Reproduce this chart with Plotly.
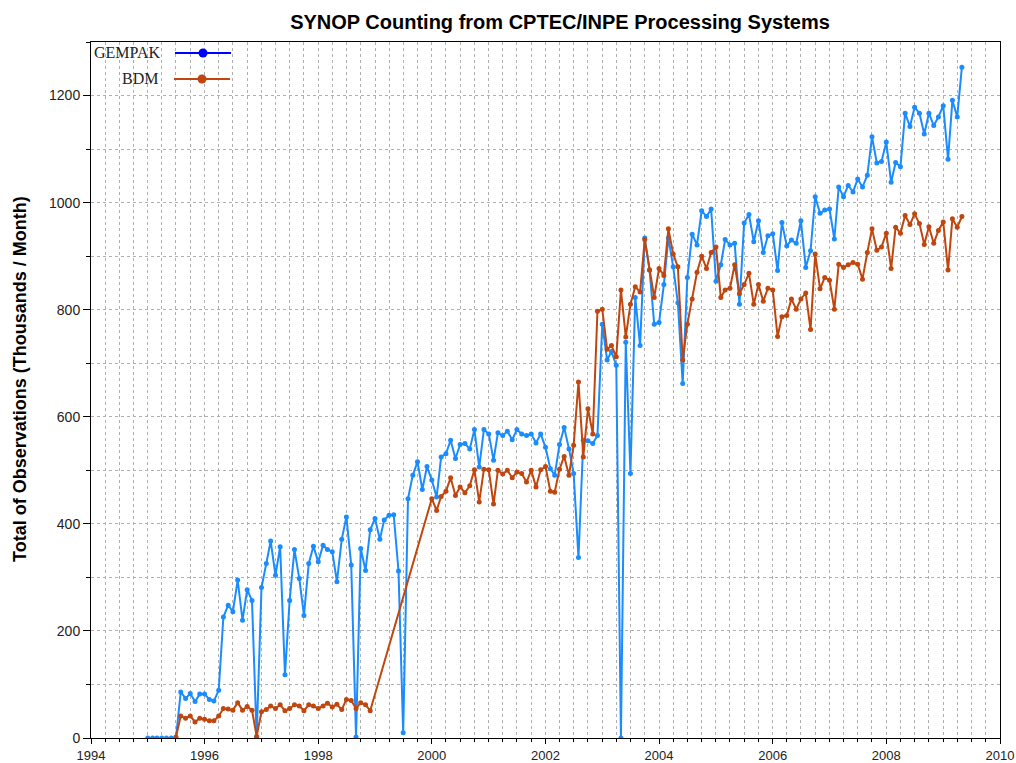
import plotly.graph_objects as go
import pandas as pd

# ---------------- data (thousands of observations per month) ----------------
start_month = "1995-01-01"

gempak = [
    0, 0, 0, 0, 0, 0, 0, 86, 74, 83, 68, 82,            # 1995
    82, 72, 69, 89, 226, 248, 236, 295, 220, 277, 257, 2,  # 1996
    281, 326, 368, 304, 357, 118, 257, 352, 298, 229, 326, 358,  # 1997
    329, 360, 352, 348, 292, 371, 413, 323, 2, 354, 313, 389,    # 1998
    410, 371, 407, 416, 417, 312, 10, 447, 491, 516, 464, 507,   # 1999
    482, 450, 525, 531, 556, 522, 548, 550, 540, 576, 506, 576,  # 2000
    568, 519, 570, 565, 573, 557, 576, 568, 565, 568, 551, 568,  # 2001
    543, 503, 491, 548, 580, 540, 494, 337, 556, 555, 550, 565,  # 2002
    773, 706, 722, 696, 0, 739, 494, 823, 733, 934, 874, 773,    # 2003
    776, 847, 934, 880, 813, 662, 860, 941, 921, 985, 974, 988,  # 2004
    853, 884, 931, 921, 924, 810, 962, 978, 927, 966, 907, 938,  # 2005
    942, 873, 963, 919, 930, 924, 966, 879, 910, 1011, 980, 986, # 2006
    988, 932, 1029, 1011, 1032, 1020, 1044, 1029, 1051, 1123, 1074, 1077,  # 2007
    1113, 1038, 1075, 1067, 1167, 1142, 1178, 1167, 1128, 1167, 1144, 1160,  # 2008
    1181, 1081, 1191, 1160, 1253,                                # 2009
]

bdm = [
    None, None, None, None, None, None, 2, 41, 37, 41, 30, 37,   # 1995
    35, 32, 32, 41, 55, 54, 52, 66, 52, 59, 52, 3,               # 1996
    49, 53, 60, 55, 62, 51, 55, 62, 60, 51, 62, 60,              # 1997
    55, 60, 65, 58, 63, 53, 72, 70, 55, 66, 62, 51,              # 1998
    None, None, None, None, None, None, None, None, None, None, None, None,  # 1999
    447, 425, 451, 461, 486, 453, 469, 458, 471, 501, 441, 502,  # 2000
    501, 437, 500, 493, 500, 486, 497, 494, 478, 500, 469, 501,  # 2001
    507, 461, 459, 502, 526, 491, 547, 665, 525, 615, 568, 797,  # 2002
    801, 726, 733, 712, 837, 749, 810, 843, 833, 931, 874, 823,  # 2003
    877, 864, 951, 904, 880, 706, 773, 820, 870, 900, 877, 907,  # 2004
    917, 823, 837, 840, 884, 830, 847, 868, 810, 847, 816, 840,  # 2005
    837, 750, 787, 789, 820, 801, 820, 831, 763, 904, 839, 860,  # 2006
    855, 801, 885, 879, 884, 888, 885, 857, 907, 951, 911, 917,  # 2007
    943, 877, 954, 943, 976, 959, 979, 961, 922, 955, 924, 948,  # 2008
    964, 874, 970, 954, 974,                                     # 2009
]

series_names = ["GEMPAK", "BDM"]
title_text = "SYNOP Counting from CPTEC/INPE Processing Systems"
ytitle_text = "Total of Observations (Thousands / Month)"

months = pd.date_range(start_month, periods=len(gempak), freq="MS")

# ---------------- style ----------------
W, H = 1016, 763
L, R, T, B = 91, 16, 42, 25
PW, PH = W - L - R, H - T - B
BLUE = "#1a8cff"
ORANGE = "#c0460e"
LEG_BLUE = "#0000ff"


def px(xpix):
    return (xpix - L) / PW


def py(ypix):
    return (H - B - ypix) / PH


fig = go.Figure()
fig.add_trace(go.Scatter(
    x=months, y=gempak, mode="lines+markers", name=series_names[0],
    line=dict(color=BLUE, width=2), marker=dict(size=5, color=BLUE),
    showlegend=False,
))
fig.add_trace(go.Scatter(
    x=months, y=bdm, mode="lines+markers", name=series_names[1],
    connectgaps=True,
    line=dict(color=ORANGE, width=2), marker=dict(size=5, color=ORANGE),
    showlegend=False,
))

grid = dict(gridcolor="#b0b0b0", griddash="dot", gridwidth=1)

fig.update_xaxes(
    type="date", automargin=False,
    range=["1994-01-01", "2010-01-01"],
    tickformat="%Y", dtick="M24", tick0="1994-01-01",
    ticks="outside", ticklen=5, tickcolor="black",
    showline=True, linecolor="black", linewidth=1, mirror=True,
    showgrid=True, **grid,
    minor=dict(dtick="M3", ticks="outside", ticklen=3, tickcolor="black",
               showgrid=True, gridcolor="#b0b0b0", griddash="dot"),
    tickfont=dict(family="Liberation Sans, Arial", size=13, color="#222"),
    zeroline=False,
)
fig.update_yaxes(
    automargin=False,
    range=[0, 1300],
    dtick=200, tick0=0,
    ticks="outside", ticklen=7, tickcolor="black",
    showline=True, linecolor="black", linewidth=1, mirror=True,
    showgrid=True, **grid,
    minor=dict(dtick=100, ticks="outside", ticklen=4, tickcolor="black",
               showgrid=True, gridcolor="#b0b0b0", griddash="dot"),
    tickfont=dict(family="Liberation Sans, Arial", size=14, color="#222"),
    zeroline=False,
)

# custom legend: label on the left, line + marker on the right
legend_rows = [
    (series_names[0], LEG_BLUE, 53, 163, 175, 231, 203),
    (series_names[1], ORANGE, 79, 160, 174, 230, 202),
]
shapes = []
annotations = []
for name, col, ypix, text_right, l0, l1, mx in legend_rows:
    shapes.append(dict(type="line", xref="paper", yref="paper",
                       x0=px(l0), x1=px(l1), y0=py(ypix), y1=py(ypix),
                       line=dict(color=col, width=2)))
    shapes.append(dict(type="circle", xref="paper", yref="paper",
                       xsizemode="pixel", ysizemode="pixel",
                       xanchor=px(mx), yanchor=py(ypix),
                       x0=-4.5, x1=4.5, y0=-4.5, y1=4.5,
                       fillcolor=col, line=dict(color=col, width=0)))
    annotations.append(dict(text=name, xref="paper", yref="paper",
                            x=px(text_right), y=py(ypix),
                            xanchor="right", yanchor="middle", showarrow=False,
                            font=dict(family="Liberation Serif, Times New Roman",
                                      size=16, color="#222")))

annotations.append(dict(text="<b>" + ytitle_text + "</b>", xref="paper", yref="paper",
                        x=px(20), y=py(379), xanchor="center", yanchor="middle",
                        textangle=-90, showarrow=False,
                        font=dict(family="Liberation Sans, Arial", size=18, color="black")))

fig.update_layout(
    width=W, height=H,
    margin=dict(l=L, r=R, t=T, b=B, autoexpand=False),
    paper_bgcolor="white", plot_bgcolor="white",
    title=dict(text="<b>" + title_text + "</b>", x=560 / W, xanchor="center",
               y=1 - 22 / H, yanchor="middle", yref="container",
               font=dict(family="Liberation Sans, Arial", size=20, color="black")),
    shapes=shapes, annotations=annotations,
    showlegend=False,
)

fig.write_html(
    "out.html",
    config={"displayModeBar": False},
    post_script="document.body.style.margin='0';document.body.style.overflow='hidden';",
)
